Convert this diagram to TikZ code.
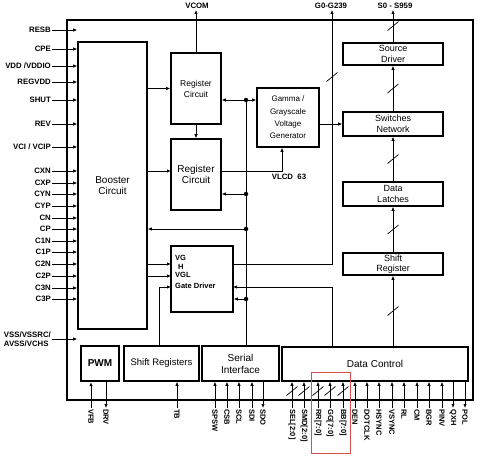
\documentclass[tikz,border=0pt]{standalone}
\usepackage{fontspec}
\setmainfont{Liberation Sans}
\usetikzlibrary{arrows.meta, positioning, calc}

\definecolor{hilite}{RGB}{215,80,80}
\newcommand{\busmark}[1]{\draw[wire] (#1) ++(-5.5,4.5) -- ++(11,-9);}

\begin{document}
\begin{tikzpicture}[x=1pt, y=-1pt,
    blk/.style={rectangle, draw, line width=1.6pt, inner sep=0pt, align=center, font=\fontsize{9}{10.5}\selectfont},
    pinl/.style={font=\fontsize{7.8}{9}\selectfont\bfseries, inner sep=1pt},
    botl/.style={font=\fontsize{7.5}{9}\selectfont\bfseries, inner sep=1pt, rotate=-90, anchor=west},
    wire/.style={line width=0.7pt},
    arr/.style={wire, -{Latex[length=4pt,width=3.4pt]}},
    dot/.style={circle, fill, inner sep=0pt, minimum size=4.5pt}]

    \useasboundingbox (0,0) rectangle (478,455);

    % Chip outline
    \node (chip) [draw, line width=1.6pt, minimum width=406, minimum height=380] at (270,210) {};

    % Define blocks
    \node (booster) [blk, minimum width=69, minimum height=287, font=\fontsize{10}{11.5}\selectfont] at (112.5,185.5) {Booster\\Circuit};
    \node (reg1) [blk, minimum width=50, minimum height=71, font=\fontsize{8.5}{11}\selectfont] at (196,88.5) {Register\\Circuit};
    \node (reg2) [blk, minimum width=50, minimum height=71, font=\fontsize{10}{11.5}\selectfont] at (196,174.5) {Register\\Circuit};
    \node (gamma) [blk, minimum width=62, minimum height=59, font=\fontsize{8}{12.3}\selectfont] at (288,117.5) {Gamma /\\Grayscale\\Voltage\\Generator};
    \node (gate) [blk, minimum width=62, minimum height=66] at (202,279) {};
    \node (gatetxt) [font=\fontsize{7.5}{8.6}\selectfont\bfseries, align=left, inner sep=0pt, anchor=north west] at (175,255) {VG\\\hspace*{3pt}H\\VGL\\[2.4pt]Gate Driver};

    \node (srcdrv) [blk, minimum width=100, minimum height=22] at (393,54) {Source\\Driver};
    \node (switches) [blk, minimum width=100, minimum height=24] at (393,124) {Switches\\Network};
    \node (latches) [blk, minimum width=100, minimum height=24] at (393,194) {Data\\Latches};
    \node (shreg) [blk, minimum width=100, minimum height=22] at (393,264) {Shift\\Register};

    \node (pwm) [blk, line width=2.4pt, minimum width=38, minimum height=35, font=\fontsize{10}{12}\selectfont\bfseries] at (100,363.5) {PWM};
    \node (shregs) [blk, minimum width=75, minimum height=35, font=\fontsize{9.5}{11}\selectfont] at (161.5,363.5) {Shift Registers};
    \node (serial) [blk, minimum width=77, minimum height=35, font=\fontsize{10}{12}\selectfont] at (240.5,363.5) {Serial\\Interface};
    \node (dctl) [blk, minimum width=186, minimum height=34, font=\fontsize{10}{12}\selectfont] at (375,364) {Data Control};

    % Top outputs
    \node (vcom) [pinl] at (197,6) {VCOM};
    \node (gout) [pinl] at (331,6) {G0-G239};
    \node (sout) [pinl] at (395,6) {S0 - S959};
    \draw[arr] (reg1.north) -- (reg1.north |- vcom.south);

    % Left inputs
    \node (resb) [pinl, anchor=east] at (52,30) {RESB};
    \node (cpe) [pinl, anchor=east] at (52,49) {CPE};
    \node (vdd) [pinl, anchor=east] at (52,66) {VDD /VDDIO};
    \node (regvdd) [pinl, anchor=east] at (52,82) {REGVDD};
    \node (shut) [pinl, anchor=east] at (52,100) {SHUT};
    \node (rev) [pinl, anchor=east] at (52,124) {REV};
    \node (vci) [pinl, anchor=east] at (52,147) {VCI / VCIP};
    \node (cxn) [pinl, anchor=east] at (52,171) {CXN};
    \node (cxp) [pinl, anchor=east] at (52,183) {CXP};
    \node (cyn) [pinl, anchor=east] at (52,194) {CYN};
    \node (cyp) [pinl, anchor=east] at (52,206) {CYP};
    \node (cn) [pinl, anchor=east] at (52,218) {CN};
    \node (cp) [pinl, anchor=east] at (52,229) {CP};
    \node (c1n) [pinl, anchor=east] at (52,241) {C1N};
    \node (c1p) [pinl, anchor=east] at (52,252) {C1P};
    \node (c2n) [pinl, anchor=east] at (52,264) {C2N};
    \node (c2p) [pinl, anchor=east] at (52,276) {C2P};
    \node (c3n) [pinl, anchor=east] at (52,288) {C3N};
    \node (c3p) [pinl, anchor=east] at (52,299) {C3P};
    \node (vss) [pinl, align=left, anchor=east, font=\fontsize{7.8}{9.5}\selectfont\bfseries] at (52,339) {VSS/VSSRC/\\AVSS/VCHS};
    \foreach \p in {resb,cpe,vdd,regvdd,shut,rev,vci,cxn,cxp,cyn,cyp,cn,cp,c1n,c1p,c2n,c2p,c3n,c3p,vss}
        \draw[arr] (\p.east) -- (\p.east -| booster.west);

    % Bottom pins
    \node (vfb) [botl] at (91,408) {VFB};
    \node (drv) [botl] at (106,408) {DRV};
    \node (tb) [botl] at (177,408) {TB};
    \node (spsw) [botl] at (215,408) {SPSW};
    \node (csb) [botl] at (227,408) {CSB};
    \node (scl) [botl] at (239,408) {SCL};
    \node (sdi) [botl] at (252,408) {SDI};
    \node (sdo) [botl] at (263,408) {SDO};
    \node (sel) [botl] at (292,408) {SEL[2:0]};
    \node (smd) [botl] at (304,408) {SMD[2:0]};
    \node (rr) [botl] at (318,408) {RR[7:0]};
    \node (gg) [botl] at (330,408) {GG[7:0]};
    \node (bb) [botl] at (343,408) {BB[7:0]};
    \node (den) [botl] at (355,408) {DEN};
    \node (dotclk) [botl] at (367,408) {DOTCLK};
    \node (hsync) [botl] at (379,408) {HSYNC};
    \node (vsync) [botl] at (392,408) {VSYNC};
    \node (rl) [botl] at (404,408) {RL};
    \node (cm) [botl] at (417,408) {CM};
    \node (bgr) [botl] at (429,408) {BGR};
    \node (pinv) [botl] at (442,408) {PINV};
    \node (qxh) [botl] at (453,408) {QXH};
    \node (pol) [botl] at (465,408) {POL};

    \draw[arr] (vfb.west) -- (vfb.west |- pwm.south);
    \draw[arr] (drv.west |- pwm.south) -- (drv.west);
    \draw[arr] (tb.west) -- (tb.west |- shregs.south);
    \foreach \p in {spsw,csb,scl,sdi}
        \draw[arr] (\p.west) -- (\p.west |- serial.south);
    \draw[arr] (sdo.west |- serial.south) -- (sdo.west);
    \foreach \p in {sel,smd,rr,gg,bb,den,dotclk,hsync,vsync,rl,cm,bgr,pinv}
        \draw[arr] (\p.west) -- (\p.west |- dctl.south);
    \draw[arr] (qxh.west |- dctl.south) -- (qxh.west);
    \draw[arr] (pol.west |- dctl.south) -- (pol.west);
    \coordinate (bm) at (0,391);
    \foreach \p in {sel,smd,rr,gg,bb}
        {\busmark{\p.west |- bm}}
    \node (rgbbox) [draw=hilite, line width=0.8pt, minimum width=39, minimum height=81] at (330.5,412.5) {};

    % Booster outputs
    \coordinate (r2in) at (171,171);
    \coordinate (vgh) at (171,264);
    \coordinate (vgl) at (171,276);
    \coordinate (gin) at (171,287);
    \draw[arr] (booster.east |- reg1.west) -- (reg1.west);
    \draw[arr] (r2in -| booster.east) -- (r2in);
    \draw[arr] (vgh -| booster.east) -- (vgh);
    \draw[arr] (vgl -| booster.east) -- (vgl);
    \draw[arr] (reg1) -- (reg2);

    % Register to gamma
    \coordinate (r2out) at (221,171);
    \coordinate (vlx) at (282,0);
    \draw[arr] (r2out) -| (gamma.south -| vlx);
    \node (vlcd) [pinl] at (289,177) {VLCD\ \ 63};
    \draw[arr] (gamma.east |- switches.west) -- (switches.west);

    % Serial bus
    \node (d1) [dot] at (246,100) {};
    \node (d2) [dot] at (246,194) {};
    \node (d3) [dot] at (246,229) {};
    \node (d4) [dot] at (246,299) {};
    \draw[wire] (serial.north -| d1) -- (d1.center);
    \draw[arr] (d1.center) -- (d1 -| reg1.east);
    \draw[arr] (d1.center) -- (d1 -| gamma.west);
    \draw[arr] (d2.center) -- (d2 -| reg2.east);
    \draw[arr] (d3.center) -- (d3 -| booster.east);
    \draw[arr] (d4.center) -- (d4 -| gate.east);

    % Gate lines
    \coordinate (gx) at (332,0);
    \coordinate (gdo) at (233,264);
    \coordinate (gdi) at (233,287);
    \coordinate (sx) at (159,0);
    \draw[arr] (gdo) -| (gx |- gout.south);
    \coordinate (gm) at (332,77);
    \busmark{gm}
    \draw[arr] (dctl.north -| gx) |- (gdi);
    \draw[arr] (shregs.north -| sx) |- (gin);

    % Source chain
    \draw[arr] (dctl.north -| shreg) -- coordinate (m1) (shreg.south);
    \draw[arr] (shreg) -- coordinate (m2) (latches);
    \draw[arr] (latches) -- coordinate (m3) (switches);
    \draw[arr] (switches) -- coordinate (m4) (srcdrv);
    \draw[arr] (srcdrv.north) -- coordinate (m5) (srcdrv.north |- sout.south);
    \foreach \m in {m1,m2,m3,m4,m5}
        {\busmark{\m}}

\end{tikzpicture}
\end{document}
